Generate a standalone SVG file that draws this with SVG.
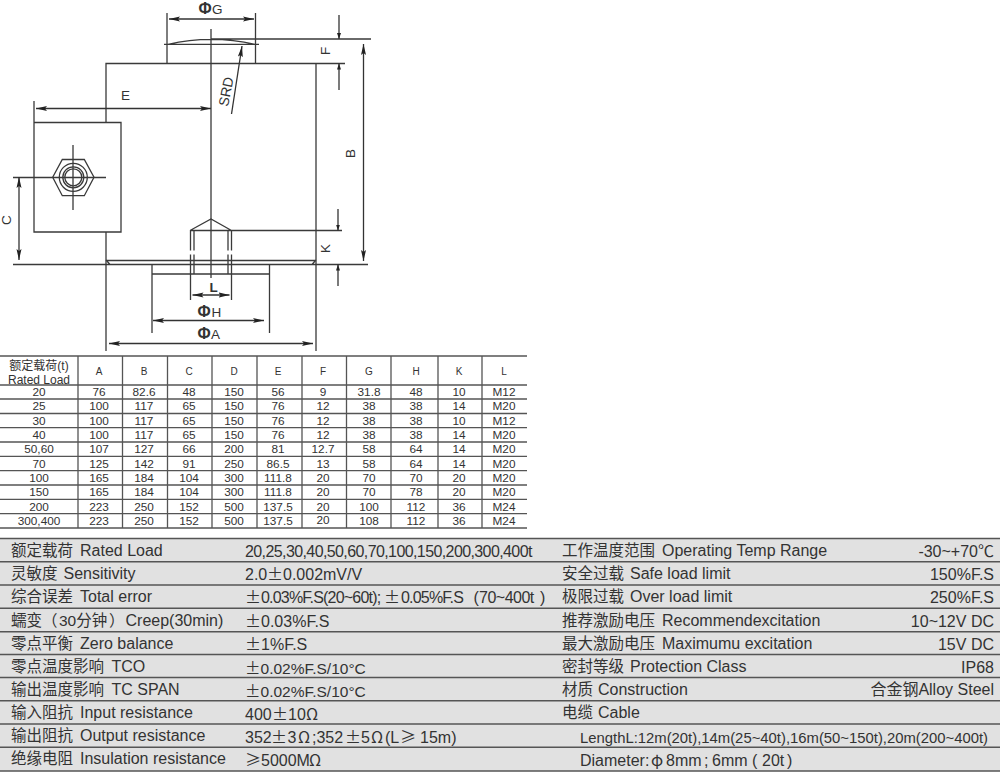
<svg xmlns="http://www.w3.org/2000/svg" width="1000" height="775" viewBox="0 0 1000 775">
<style>
text{font-family:"Liberation Sans","Noto Sans CJK SC",sans-serif;fill:#333}
.l{stroke:#3a3a3a;stroke-width:1.3;fill:none}
.n{stroke:#333;stroke-width:1.3;fill:none}
.g{stroke:#555;stroke-width:1.5}
.h{stroke:#555;stroke-width:1.3}
.c{font-size:11.8px;text-anchor:middle}
.m{font-size:10px;text-anchor:middle}
.q{font-size:12px;text-anchor:middle}
.r{font-size:15.500px}
.la{font-size:16px}
.v{font-size:16px}
.e{text-anchor:end;font-size:16px}
.z{font-family:"Noto Sans CJK SC",sans-serif}
.dl{font-size:13.500px}
.ph{font-size:16px;font-weight:700}
</style>
<defs>
<marker id="a" markerUnits="userSpaceOnUse" markerWidth="12" markerHeight="7" refX="11" refY="3.500" orient="auto-start-reverse"><path d="M0 1L11 3.500L0 6L2 3.500Z" fill="#222"/></marker>
<marker id="b" markerUnits="userSpaceOnUse" markerWidth="7" markerHeight="7" refX="6" refY="3.500" orient="auto"><path d="M0 1.500L6 3.500L0 5.500Z" fill="#222"/></marker>
</defs>
<rect width="1000" height="775" fill="#fff"/>
<g id="drawing">
<path class="l" d="M106 122.500V63.500H345M316 63.500V351M106 232V351"/>
<path class="l" d="M167 13V63.500M255.500 13V63.500M164 44.300H259M168 44.300Q211 34.500 255 44.300M211 39H371M211 29V278"/>
<path class="l" d="M34 101V232H121V122.500H34"/>
<path class="l" d="M13 177.500H106M73 145V210"/>
<path class="l" d="M52.700 177.300L62.300 159.500H84.300L94 177.300L84.300 195.700H62.300Z"/>
<circle class="l" cx="73.300" cy="177.300" r="14"/><circle class="l" cx="73.300" cy="177.300" r="10.500"/><circle class="l" cx="73.300" cy="177.300" r="8.500"/>
<path class="l" d="M13 264.500H368M106 260.500H316M106 260L110 264.500M316 260L312 264.500"/>
<path class="l" d="M152 264.500V333M269.500 264.500V333M152 274H269.500"/>
<path class="l" d="M190.500 230.500V250.500M190.500 254.500V300M231.500 230.500V250.500M231.500 254.500V300M194 230.500V250.500M194 254.500V274M228 230.500V250.500M228 254.500V274M190 230.500L211 219L231.500 230.500M190 230.500H342"/>
</g>
<g id="connectors">
<path class="n" marker-start="url(#a)" marker-end="url(#a)" d="M169 19H254"/>
<path class="n" marker-start="url(#a)" marker-end="url(#a)" d="M36 108.500H211"/>
<path class="n" marker-end="url(#a)" d="M231.500 114L242 46"/>
<path class="n" marker-end="url(#b)" d="M339 15V39"/><path class="n" marker-end="url(#b)" d="M339 90V63.500"/>
<path class="n" marker-start="url(#a)" marker-end="url(#a)" d="M363.500 44V261"/>
<path class="n" marker-start="url(#a)" marker-end="url(#a)" d="M19 177V260"/>
<path class="n" marker-end="url(#b)" d="M338 209V230.500"/><path class="n" marker-end="url(#b)" d="M338 286V264.500"/>
<path class="n" marker-start="url(#a)" marker-end="url(#a)" d="M192.500 295H229.500"/>
<path class="n" marker-start="url(#a)" marker-end="url(#a)" d="M153 320.500H264"/>
<path class="n" marker-start="url(#a)" marker-end="url(#a)" d="M109 343.500H313"/>
</g>
<g id="labels">
<text x="198.500" y="13.500" class="dl"><tspan class="ph">Φ</tspan><tspan x="212">G</tspan></text>
<text x="121" y="100" class="dl">E</text>
<text transform="translate(228 107) rotate(-79)" class="dl" style="font-size:14px">SRD</text>
<text transform="translate(330 55) rotate(-90)" class="dl">F</text>
<text transform="translate(355 158) rotate(-90)" class="dl">B</text>
<text transform="translate(11 225) rotate(-90)" class="dl">C</text>
<text transform="translate(330 253) rotate(-90)" class="dl">K</text>
<text x="209.500" y="291.700" class="dl" font-weight="700">L</text>
<text x="197.500" y="317" class="dl"><tspan class="ph">Φ</tspan><tspan x="211.500">H</tspan></text>
<text x="197.500" y="339" class="dl"><tspan class="ph">Φ</tspan><tspan x="211">A</tspan></text>
</g>
<g id="dim-table">
<path class="h" d="M0 356H527M0 385H527M0 399H527M0 413.500H527M0 427.700H527M0 442H527M0 456.300H527M0 470.700H527M0 485H527M0 499.300H527M0 513.700H527M0 528H527"/>
<path class="h" d="M78 356V528M122.500 356V528M167.500 356V528M212 356V528M257 356V528M302 356V528M346.500 356V528M391 356V528M438 356V528M482 356V528"/>
<text x="39" y="370" class="q">额定载荷(t)</text><text x="39" y="383.500" class="q">Rated Load</text>
<g class="m"><text x="99" y="375">A</text><text x="144" y="375">B</text><text x="189" y="375">C</text><text x="234" y="375">D</text><text x="278" y="375">E</text><text x="323" y="375">F</text><text x="369" y="375">G</text><text x="416" y="375">H</text><text x="459" y="375">K</text><text x="504" y="375">L</text></g>
<g class="c">
<text x="39" y="396">20</text><text x="99" y="396">76</text><text x="144" y="396">82.6</text><text x="189" y="396">48</text><text x="234" y="396">150</text><text x="278" y="396">56</text><text x="323" y="396">9</text><text x="369" y="396">31.8</text><text x="416" y="396">48</text><text x="459" y="396">10</text><text x="504" y="396">M12</text>
<text x="39" y="410">25</text><text x="99" y="410">100</text><text x="144" y="410">117</text><text x="189" y="410">65</text><text x="234" y="410">150</text><text x="278" y="410">76</text><text x="323" y="410">12</text><text x="369" y="410">38</text><text x="416" y="410">38</text><text x="459" y="410">14</text><text x="504" y="410">M20</text>
<text x="39" y="424.500">30</text><text x="99" y="424.500">100</text><text x="144" y="424.500">117</text><text x="189" y="424.500">65</text><text x="234" y="424.500">150</text><text x="278" y="424.500">76</text><text x="323" y="424.500">12</text><text x="369" y="424.500">38</text><text x="416" y="424.500">38</text><text x="459" y="424.500">10</text><text x="504" y="424.500">M12</text>
<text x="39" y="439">40</text><text x="99" y="439">100</text><text x="144" y="439">117</text><text x="189" y="439">65</text><text x="234" y="439">150</text><text x="278" y="439">76</text><text x="323" y="439">12</text><text x="369" y="439">38</text><text x="416" y="439">38</text><text x="459" y="439">14</text><text x="504" y="439">M20</text>
<text x="39" y="453">50,60</text><text x="99" y="453">107</text><text x="144" y="453">127</text><text x="189" y="453">66</text><text x="234" y="453">200</text><text x="278" y="453">81</text><text x="323" y="453">12.7</text><text x="369" y="453">58</text><text x="416" y="453">64</text><text x="459" y="453">14</text><text x="504" y="453">M20</text>
<text x="39" y="467.500">70</text><text x="99" y="467.500">125</text><text x="144" y="467.500">142</text><text x="189" y="467.500">91</text><text x="234" y="467.500">250</text><text x="278" y="467.500">86.5</text><text x="323" y="467.500">13</text><text x="369" y="467.500">58</text><text x="416" y="467.500">64</text><text x="459" y="467.500">14</text><text x="504" y="467.500">M20</text>
<text x="39" y="482">100</text><text x="99" y="482">165</text><text x="144" y="482">184</text><text x="189" y="482">104</text><text x="234" y="482">300</text><text x="278" y="482">111.8</text><text x="323" y="482">20</text><text x="369" y="482">70</text><text x="416" y="482">70</text><text x="459" y="482">20</text><text x="504" y="482">M20</text>
<text x="39" y="496">150</text><text x="99" y="496">165</text><text x="144" y="496">184</text><text x="189" y="496">104</text><text x="234" y="496">300</text><text x="278" y="496">111.8</text><text x="323" y="496">20</text><text x="369" y="496">70</text><text x="416" y="496">78</text><text x="459" y="496">20</text><text x="504" y="496">M20</text>
<text x="39" y="510.500">200</text><text x="99" y="510.500">223</text><text x="144" y="510.500">250</text><text x="189" y="510.500">152</text><text x="234" y="510.500">500</text><text x="278" y="510.500">137.5</text><text x="323" y="510.500">20</text><text x="369" y="510.500">100</text><text x="416" y="510.500">112</text><text x="459" y="510.500">36</text><text x="504" y="510.500">M24</text>
<text x="39" y="525">300,400</text><text x="99" y="525">223</text><text x="144" y="525">250</text><text x="189" y="525">152</text><text x="234" y="525">500</text><text x="278" y="525">137.5</text><text x="323" y="524">20</text><text x="369" y="525">108</text><text x="416" y="525">112</text><text x="459" y="525">36</text><text x="504" y="525">M24</text>
</g>
</g>
<g id="spec-table">
<rect y="538" width="1000" height="233" fill="#e1e1e1"/>
<path class="g" d="M0 538.500H1000M0 561.700H1000M0 585H1000M0 608.300H1000M0 631.700H1000M0 654.500H1000M0 677.500H1000M0 700.700H1000M0 724H1000M0 747.300H1000M0 771H1000"/>
<g class="r">
<text x="11" y="556">额定载荷<tspan x="80" class="la">Rated Load</tspan></text>
<text x="11" y="579">灵敏度<tspan x="63.500" class="la">Sensitivity</tspan></text>
<text x="11" y="602">综合误差<tspan x="80" class="la">Total error</tspan></text>
<text x="11" y="626">蠕变（<tspan x="59">30分钟</tspan><tspan x="109">）</tspan><tspan x="125.500" class="la">Creep(30min)</tspan></text>
<text x="11" y="649">零点平衡<tspan x="80" class="la">Zero balance</tspan></text>
<text x="11" y="672">零点温度影响<tspan x="111.500" class="la">TCO</tspan></text>
<text x="11" y="695">输出温度影响<tspan x="111.500" class="la">TC SPAN</tspan></text>
<text x="11" y="718">输入阻抗<tspan x="80" class="la">Input resistance</tspan></text>
<text x="11" y="741">输出阻抗<tspan x="80" class="la">Output resistance</tspan></text>
<text x="11" y="764">绝缘电阻<tspan x="80" class="la">Insulation resistance</tspan></text>
<text x="245" y="557" class="v" letter-spacing="-0.6">20,25,30,40,50,60,70,100,150,200,300,400t</text>
<text x="245" y="580" class="v">2.0<tspan class="z" x="267">±</tspan><tspan x="283">0.002mV/V</tspan></text>
<text x="245" y="603" class="v"><tspan class="z">±</tspan><tspan x="261" letter-spacing="-0.8">0.03%F.S(20~60t);</tspan><tspan class="z" x="384">±</tspan><tspan x="401" letter-spacing="-0.8">0.05%F.S</tspan><tspan x="469"> (</tspan><tspan x="479" letter-spacing="-0.5">70~400t</tspan><tspan x="540">)</tspan></text>
<text x="245" y="627" class="v"><tspan class="z">±</tspan>0.03%F.S</text>
<text x="245" y="650" class="v"><tspan class="z">±</tspan>1%F.S</text>
<text x="245" y="674" class="r"><tspan class="z">±</tspan>0.02%F.S/10°C</text>
<text x="245" y="697" class="r"><tspan class="z">±</tspan>0.02%F.S/10°C</text>
<text x="245" y="720" class="v">400<tspan class="z" x="272">±</tspan><tspan x="288">10</tspan><tspan class="z" x="306">Ω</tspan></text>
<text x="245" y="743" class="v">352<tspan class="z" x="271">±</tspan><tspan x="287.500">3</tspan><tspan class="z" x="298">Ω</tspan><tspan x="312">;352</tspan><tspan class="z" x="345">±</tspan><tspan x="361">5</tspan><tspan class="z" x="371">Ω</tspan><tspan x="385">(L</tspan><tspan class="z" x="400">≥</tspan><tspan x="420">15m)</tspan></text>
<text x="245" y="766" class="v"><tspan class="z">≥</tspan><tspan x="261">5000M</tspan><tspan class="z" x="309">Ω</tspan></text>
<text x="562" y="556">工作温度范围<tspan x="662" class="la">Operating Temp Range</tspan></text>
<text x="562" y="579">安全过载<tspan x="630" class="la">Safe load limit</tspan></text>
<text x="562" y="602">极限过载<tspan x="630" class="la">Over load limit</tspan></text>
<text x="562" y="626">推荐激励电压<tspan x="662" class="la">Recommendexcitation</tspan></text>
<text x="562" y="649">最大激励电压<tspan x="662" class="la">Maximumu excitation</tspan></text>
<text x="562" y="672">密封等级<tspan x="630" class="la">Protection Class</tspan></text>
<text x="562" y="695">材质<tspan x="598" class="la">Construction</tspan></text>
<text x="562" y="718">电缆<tspan x="598" class="la">Cable</tspan></text>
<text x="580" y="743" style="font-size:14.850px">LengthL:12m(20t),14m(25~40t),16m(50~150t),20m(200~400t)</text>
<text x="580" y="766" class="v">Diameter:<tspan class="z" x="651">φ</tspan><tspan x="666">8mm</tspan><tspan x="704">;</tspan><tspan x="712">6mm</tspan><tspan x="752">(</tspan><tspan x="762">20t</tspan><tspan x="787">)</tspan></text>
<text x="994" y="557" class="e">-30~+70<tspan class="z">℃</tspan></text>
<text x="994" y="580" class="e">150%F.S</text>
<text x="994" y="603" class="e">250%F.S</text>
<text x="994" y="627" class="e">10~12V DC</text>
<text x="994" y="650" class="e">15V DC</text>
<text x="994" y="673" class="e">IP68</text>
<text x="994" y="695" class="e">合金钢Alloy Steel</text>
</g>
</g>
</svg>
